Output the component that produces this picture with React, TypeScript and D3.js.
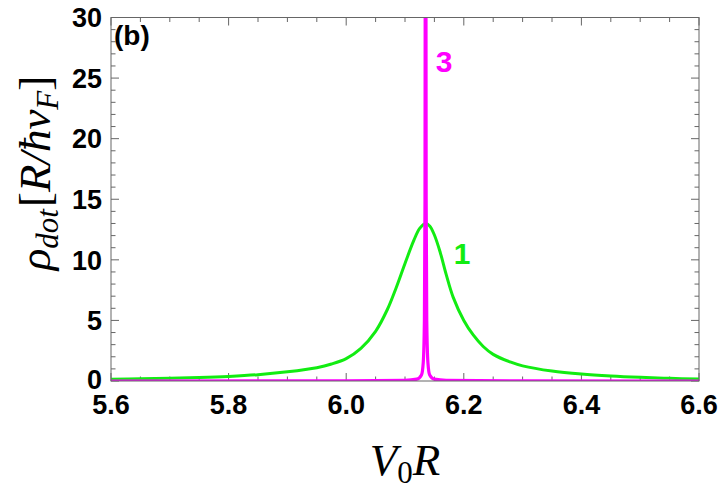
import React from 'react';
import * as d3 from 'd3';

// curve 1 (green): [V0R, rho]
const greenX = [5.6, 5.65, 5.7, 5.75, 5.8, 5.85, 5.9, 5.95, 5.975, 6.0, 6.025, 6.05, 6.07, 6.085, 6.1, 6.115, 6.125, 6.135, 6.142, 6.15, 6.16, 6.17, 6.182, 6.2, 6.216, 6.233, 6.25, 6.28, 6.3, 6.35, 6.4, 6.45, 6.5, 6.55, 6.6];
const greenY = [0.15, 0.18, 0.23, 0.29, 0.38, 0.52, 0.76, 1.1, 1.4, 1.85, 2.7, 4.1, 5.9, 7.7, 9.7, 11.6, 12.6, 13.0, 12.8, 12.05, 10.6, 8.8, 6.9, 5.0, 3.8, 2.85, 2.2, 1.55, 1.25, 0.82, 0.57, 0.41, 0.3, 0.22, 0.16];

// curve 3 (magenta), very narrow resonance
const magentaX = [5.6, 6.0, 6.1, 6.12, 6.128, 6.131, 6.133, 6.134, 6.1345, 6.135, 6.1355, 6.136, 6.137, 6.139, 6.142, 6.15, 6.17, 6.3, 6.6];
const magentaY = [0.002, 0.01, 0.05, 0.15, 0.5, 1.5, 5, 15, 40, 100, 40, 15, 5, 1.5, 0.5, 0.15, 0.05, 0.01, 0.002];

const xMajor = [5.6, 5.8, 6.0, 6.2, 6.4, 6.6];
const yMajor = [0, 5, 10, 15, 20, 25, 30];

const W = 720;
const H = 493;
const margin = { top: 17.5, right: 21, bottom: 112, left: 111 };

const App: React.FC = () => {
  const x = d3.scaleLinear().domain([5.6, 6.6]).range([margin.left, W - margin.right]);
  const y = d3.scaleLinear().domain([0, 30]).range([H - margin.bottom, margin.top]);

  const smooth = d3.line<[number, number]>()
    .x(d => x(d[0]))
    .y(d => y(d[1]))
    .curve(d3.curveCatmullRom.alpha(0.5));
  const mono = d3.line<[number, number]>()
    .x(d => x(d[0]))
    .y(d => y(d[1]))
    .curve(d3.curveMonotoneX);

  const green = smooth(greenX.map((v, i) => [v, greenY[i]] as [number, number])) || '';
  const magenta = mono(magentaX.map((v, i) => [v, magentaY[i]] as [number, number])) || '';

  const xMinor = d3.range(0, 21).map(i => 5.6 + i * 0.05);
  const yMinor = d3.range(0, 31);
  const fmt = d3.format('.1f');

  const x0 = x.range()[0], x1 = x.range()[1];
  const y0 = y.range()[0], y1 = y.range()[1];
  const tickColor = '#666';
  const isMajorX = (v: number) => xMajor.some(m => Math.abs(m - v) < 1e-6);
  const isMajorY = (v: number) => v % 5 === 0;

  const tickFont = { fontFamily: 'Liberation Sans, Arial, sans-serif', fontWeight: 'bold' as const, fontSize: 27 };
  const mathFont = { fontFamily: 'Liberation Serif, Times New Roman, serif', fontStyle: 'italic' as const };

  return (
    <div style={{ position: 'fixed', left: 0, top: 0 }}>
      <svg width={W} height={H} viewBox={`0 0 ${W} ${H}`} style={{ display: 'block', background: '#fff' }}>
        <defs>
          <clipPath id="plot">
            <rect x={x0} y={y1} width={x1 - x0} height={y0 - y1} />
          </clipPath>
        </defs>

        {/* ticks on all four sides, pointing inward */}
        <g stroke={tickColor} strokeWidth={1}>
          {xMinor.map((v, i) => {
            const len = isMajorX(v) ? 8 : 4.5;
            return (
              <g key={'xt' + i}>
                <line x1={x(v)} x2={x(v)} y1={y0} y2={y0 - len} />
                <line x1={x(v)} x2={x(v)} y1={y1} y2={y1 + len} />
              </g>
            );
          })}
          {yMinor.map((v, i) => {
            const len = isMajorY(v) ? 8 : 4.5;
            return (
              <g key={'yt' + i}>
                <line x1={x0} x2={x0 + len} y1={y(v)} y2={y(v)} />
                <line x1={x1} x2={x1 - len} y1={y(v)} y2={y(v)} />
              </g>
            );
          })}
        </g>

        <g clipPath="url(#plot)" fill="none" strokeLinejoin="round">
          <path d={green} stroke="#12ec12" strokeWidth={3} />
          <path d={magenta} stroke="#ff00ff" strokeWidth={3.2} />
        </g>

        <rect x={x0} y={y1} width={x1 - x0} height={y0 - y1} fill="none" stroke={tickColor} strokeWidth={1} />

        {/* tick labels */}
        <g {...tickFont} fill="#000">
          {xMajor.map(v => (
            <text key={'xl' + v} x={x(v)} y={414} textAnchor="middle">{fmt(v)}</text>
          ))}
          {yMajor.map(v => (
            <text key={'yl' + v} x={102} y={y(v) - (v === 0 ? 2 : 0)} dy="0.36em" textAnchor="end">{v}</text>
          ))}
        </g>

        <text x={114} y={45} {...tickFont} fontSize={28} fill="#000">(b)</text>
        <text x={462} y={264} {...tickFont} fontSize={30} fill="#12ec12" textAnchor="middle">1</text>
        <text x={444} y={72} {...tickFont} fontSize={30} fill="#ff00ff" textAnchor="middle">3</text>

        {/* axis labels */}
        <text x={(x0 + x1) / 2} y={475} textAnchor="middle" {...mathFont} fontSize={45} fill="#000">
          V<tspan fontStyle="normal" fontSize={31} dy={8}>0</tspan><tspan dy={-8}>R</tspan>
        </text>
        <text transform={`translate(50,173) rotate(-90)`} textAnchor="middle" {...mathFont} fontSize={45} fill="#000">
          ρ<tspan fontSize={31} dy={8}>dot</tspan><tspan fontStyle="normal" dy={-8} dx={2}>[</tspan>R/ħv<tspan fontSize={31} dy={8}>F</tspan><tspan fontStyle="normal" dy={-8}>]</tspan>
        </text>
      </svg>
    </div>
  );
};

export default App;
